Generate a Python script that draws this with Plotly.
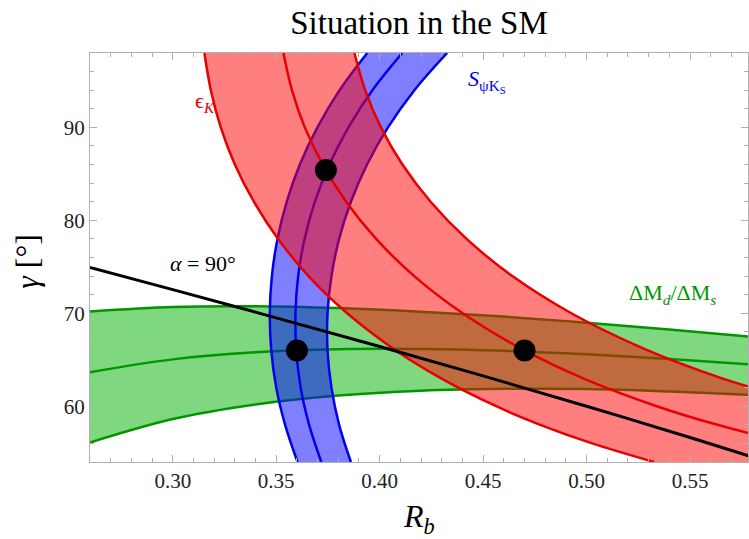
import plotly.graph_objects as go

# ---------------- data ----------------
# Delta M_d / Delta M_s band: gamma vs R_b
rb_grid = [0.26, 0.30, 0.34, 0.38, 0.42, 0.46, 0.50, 0.54, 0.58]
dm_upper = [70.20, 70.68, 70.76, 70.56, 70.17, 69.64, 68.99, 68.26, 67.47]
dm_center = [63.66, 65.04, 65.80, 66.13, 66.15, 65.96, 65.59, 65.09, 64.49]
dm_lower = [56.10, 58.62, 60.19, 61.15, 61.67, 61.87, 61.85, 61.59, 61.21]

# S_psiKs band: R_b vs gamma
gam_grid = [54, 58, 62, 66, 70, 74, 78, 82, 86, 90, 94, 98]
s_left = [0.3603, 0.3543, 0.3500, 0.3476, 0.3469, 0.3479, 0.3506, 0.3551, 0.3614, 0.3699, 0.3806, 0.3940]
s_center = [0.3718, 0.3659, 0.3618, 0.3597, 0.3593, 0.3606, 0.3637, 0.3687, 0.3757, 0.3849, 0.3965, 0.4109]
s_right = [0.3861, 0.3804, 0.3767, 0.3748, 0.3748, 0.3767, 0.3804, 0.3861, 0.3939, 0.4040, 0.4168, 0.4326]

# epsilon_K band: R_b vs gamma
eps_gam = [54, 56, 58, 60, 63, 66, 70, 74, 78, 82, 86, 90, 94, 98]
eps_left = [0.5326, 0.5027, 0.4776, 0.4563, 0.4297, 0.4078, 0.3843, 0.3656, 0.3509, 0.3392, 0.3300, 0.3232, 0.3184, 0.3153]
eps_center = [0.6448, 0.5991, 0.5632, 0.5339, 0.4983, 0.4700, 0.4401, 0.4167, 0.3983, 0.3838, 0.3725, 0.3638, 0.3576, 0.3535]
eps_right = [0.7824, 0.7053, 0.6525, 0.6122, 0.5655, 0.5296, 0.4926, 0.4641, 0.4420, 0.4246, 0.4110, 0.4006, 0.3930, 0.3878]

# alpha = 90 degree line
alpha_rb = [0.26, 0.30, 0.35, 0.40, 0.45, 0.50, 0.55, 0.58]
alpha_gam = [74.93, 72.54, 69.51, 66.42, 63.26, 60.00, 56.63, 54.55]

# best-fit points
pts_rb = [0.374, 0.360, 0.470]
pts_gam = [85.4, 66.0, 66.0]

x_ticks = [0.30, 0.35, 0.40, 0.45, 0.50, 0.55]
x_ticklabels = ["0.30", "0.35", "0.40", "0.45", "0.50", "0.55"]
y_ticks = [60, 70, 80, 90]
y_ticklabels = ["60", "70", "80", "90"]

RED_FILL = "rgba(255,0,0,0.5)"
RED_LINE = "rgb(230,0,0)"
BLUE_FILL = "rgba(0,0,255,0.5)"
BLUE_LINE = "rgb(0,0,235)"
GREEN_FILL = "rgba(0,175,0,0.5)"
GREEN_LINE = "rgb(0,150,0)"
SERIF = "Liberation Serif, Times New Roman, serif"

fig = go.Figure()

# green band
fig.add_trace(go.Scatter(x=rb_grid + rb_grid[::-1], y=dm_upper + dm_lower[::-1],
                         fill="toself", fillcolor=GREEN_FILL, line=dict(width=0),
                         mode="lines", hoverinfo="skip", showlegend=False))
for yy in (dm_upper, dm_center, dm_lower):
    fig.add_trace(go.Scatter(x=rb_grid, y=yy, mode="lines",
                             line=dict(color=GREEN_LINE, width=2.5, shape="spline"),
                             showlegend=False))

# blue band
fig.add_trace(go.Scatter(x=s_left + s_right[::-1], y=gam_grid + gam_grid[::-1],
                         fill="toself", fillcolor=BLUE_FILL, line=dict(width=0),
                         mode="lines", hoverinfo="skip", showlegend=False))
for xx in (s_left, s_center, s_right):
    fig.add_trace(go.Scatter(x=xx, y=gam_grid, mode="lines",
                             line=dict(color=BLUE_LINE, width=2.5, shape="spline"),
                             showlegend=False))

# red band
fig.add_trace(go.Scatter(x=eps_left + eps_right[::-1], y=eps_gam + eps_gam[::-1],
                         fill="toself", fillcolor=RED_FILL, line=dict(width=0),
                         mode="lines", hoverinfo="skip", showlegend=False))
for xx in (eps_left, eps_center, eps_right):
    fig.add_trace(go.Scatter(x=xx, y=eps_gam, mode="lines",
                             line=dict(color=RED_LINE, width=2.5, shape="spline"),
                             showlegend=False))

# alpha = 90 line
fig.add_trace(go.Scatter(x=alpha_rb, y=alpha_gam, mode="lines",
                         line=dict(color="black", width=3, shape="spline"),
                         showlegend=False))

# points
fig.add_trace(go.Scatter(x=pts_rb, y=pts_gam, mode="markers",
                         marker=dict(color="black", size=22),
                         showlegend=False))

axis_common = dict(
    showgrid=False, zeroline=False, showline=True, linecolor="#b0b0b0", linewidth=1,
    mirror="allticks", ticks="inside", ticklen=7, tickcolor="#b0b0b0",
    tickfont=dict(family=SERIF, size=21, color="#222"),
)

fig.update_layout(
    width=749, height=539,
    font=dict(family=SERIF, size=21, color="#222"),
    margin=dict(l=90, r=1, t=53, b=77),
    paper_bgcolor="white", plot_bgcolor="white",
    title=dict(text="Situation in the SM", x=0.5, xref="paper", xanchor="center",
               y=1 - 22 / 539, yanchor="middle",
               font=dict(family=SERIF, size=33, color="black")),
    xaxis=dict(range=[0.26, 0.578], tickvals=x_ticks, ticktext=x_ticklabels,
               minor=dict(ticks="inside", dtick=0.01, tick0=0.30, ticklen=4, tickcolor="#b0b0b0"),
               **axis_common),
    yaxis=dict(range=[54, 98], tickvals=y_ticks, ticktext=y_ticklabels,
               minor=dict(ticks="inside", dtick=2, tick0=60, ticklen=4, tickcolor="#b0b0b0"),
               **axis_common),
    annotations=[
        dict(text="<i>R</i><sub><i>b</i></sub>", xref="paper", yref="paper",
             x=0.5, y=-0.137, xanchor="center", yanchor="middle", showarrow=False,
             font=dict(family=SERIF, size=32, color="black")),
        dict(text="<i>γ</i> [°]", xref="paper", yref="paper",
             x=-0.097, y=0.49, xanchor="center", yanchor="middle", showarrow=False,
             textangle=-90, font=dict(family=SERIF, size=32, color="black")),
        dict(text="ϵ<sub><i>K</i></sub>", x=0.3156, y=92.7, showarrow=False,
             font=dict(family=SERIF, size=22, color=RED_LINE)),
        dict(text="<i>S</i><sub>ψK<sub>S</sub></sub>", x=0.452, y=95.0, showarrow=False,
             font=dict(family=SERIF, size=22, color=BLUE_LINE)),
        dict(text="<i>α</i> = 90°", x=0.3146, y=75.4, showarrow=False,
             font=dict(family=SERIF, size=22, color="black")),
        dict(text="ΔM<sub><i>d</i></sub>/ΔM<sub><i>s</i></sub>", x=0.5413, y=72.1,
             showarrow=False, font=dict(family=SERIF, size=22, color=GREEN_LINE)),
    ],
)

fig.write_html("out.html")
